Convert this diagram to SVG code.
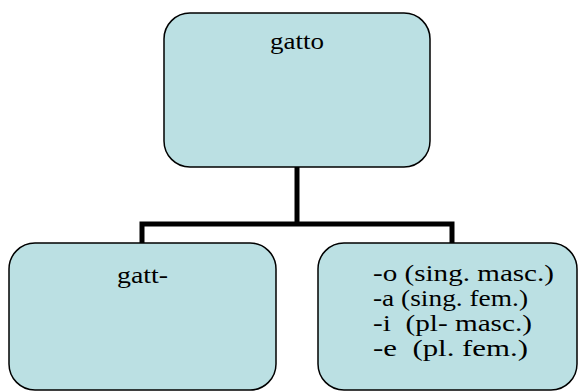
<svg xmlns="http://www.w3.org/2000/svg" width="579" height="392" viewBox="0 0 579 392">
<style>
.box{fill:#BBE0E3;stroke:#000;stroke-width:1.5}
.t{font-family:"Liberation Serif",serif;font-size:24px;fill:#000}
.c{fill:none;stroke:#000;stroke-width:5}
</style>
<rect width="579" height="392" fill="#fff"/>
<g id="connectors">
<polyline class="c" points="297,167 297,224"/>
<polyline class="c" points="142,243 142,224 452,224 452,243"/>
</g>
<g id="gatto">
<rect class="box" x="164" y="13" width="266" height="154" rx="26" ry="26"/>
<text class="t" x="270" y="49" textLength="54" lengthAdjust="spacingAndGlyphs">gatto</text>
</g>
<g id="gatt">
<rect class="box" x="9" y="243" width="267" height="147" rx="26" ry="26"/>
<text class="t" x="117" y="283" textLength="51" lengthAdjust="spacingAndGlyphs">gatt-</text>
</g>
<g id="endings">
<rect class="box" x="318" y="243" width="259" height="147" rx="26" ry="26"/>
<text class="t" xml:space="preserve"><tspan x="373" y="281" textLength="181" lengthAdjust="spacingAndGlyphs">-o (sing. masc.)</tspan><tspan x="373" y="306" textLength="155" lengthAdjust="spacingAndGlyphs">-a (sing. fem.)</tspan><tspan x="373" y="331" textLength="159" lengthAdjust="spacingAndGlyphs">-i  (pl- masc.)</tspan><tspan x="373" y="356" textLength="155" lengthAdjust="spacingAndGlyphs">-e  (pl. fem.)</tspan></text>
</g>
</svg>
